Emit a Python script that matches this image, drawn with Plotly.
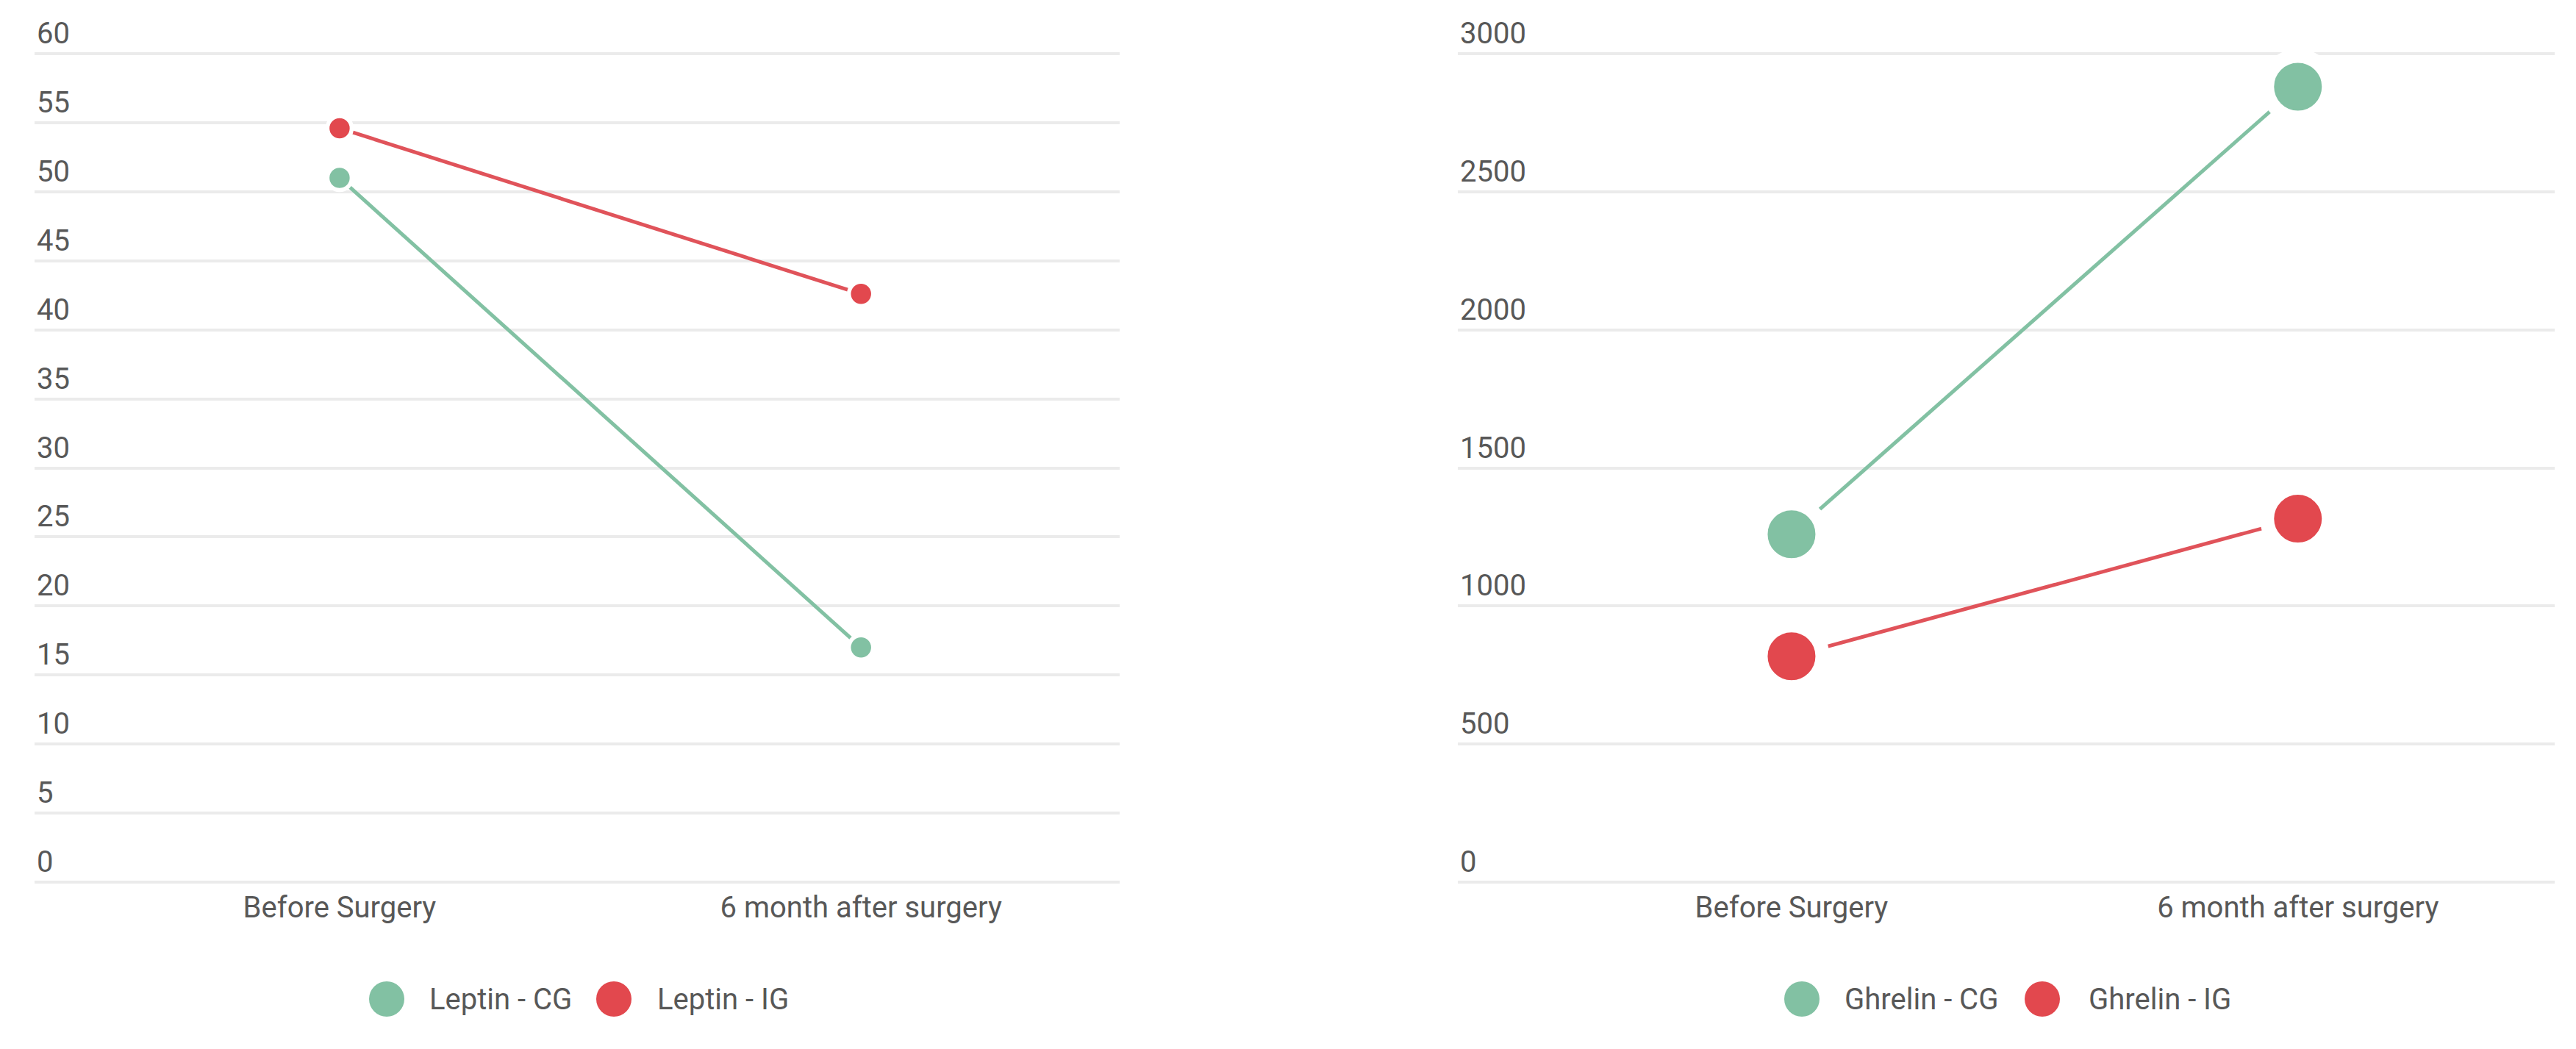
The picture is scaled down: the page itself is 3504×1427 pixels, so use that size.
import plotly.graph_objects as go

# ---------------- data ----------------
categories = ["Before Surgery", "6 month after surgery"]
leptin_cg = [51.0, 17.0]
leptin_ig = [54.6, 42.6]
ghrelin_cg = [1260, 2880]
ghrelin_ig = [818, 1316]
leptin_ticks = [0, 5, 10, 15, 20, 25, 30, 35, 40, 45, 50, 55, 60]
ghrelin_ticks = [0, 500, 1000, 1500, 2000, 2500, 3000]
left_names = ["Leptin - CG", "Leptin - IG"]
right_names = ["Ghrelin - CG", "Ghrelin - IG"]

# ---------------- style ----------------
W, H = 3504, 1427
GREEN = "#82c1a3"
RED = "#e2484e"
RED_LINE = "#e0535a"
TXT = "#585858"
GRID = "#ebebeb"
FONT = "Roboto"
FS = 40


def px_x(p):
    return p / W


def px_y(p):
    return 1 - p / H


top_px, bot_px = 8, 1207
ydom = [px_y(bot_px), px_y(top_px)]
left_dom = [px_x(47), px_x(1523)]
right_dom = [px_x(1983), px_x(3475)]

fig = go.Figure()

# left chart
for vals, col, lcol, name in [(leptin_cg, GREEN, GREEN, left_names[0]),
                              (leptin_ig, RED, RED_LINE, left_names[1])]:
    fig.add_trace(go.Scatter(
        x=categories, y=vals, name=name, mode="lines+markers",
        line=dict(color=lcol, width=5),
        marker=dict(color=col, size=33, line=dict(color="white", width=5.5)),
        xaxis="x", yaxis="y", showlegend=False, cliponaxis=False))

# right chart
for vals, col, lcol, name in [(ghrelin_cg, GREEN, GREEN, right_names[0]),
                              (ghrelin_ig, RED, RED_LINE, right_names[1])]:
    fig.add_trace(go.Scatter(
        x=categories, y=vals, name=name, mode="lines+markers",
        line=dict(color=lcol, width=5),
        marker=dict(color=col, size=84, line=dict(color="white", width=19)),
        xaxis="x2", yaxis="y2", showlegend=False, cliponaxis=False))


# y ranges so that gridline at max sits at y=73 px and 0 at y=1200 px
def yrange(vmax, y_top_line=73, y_zero=1200):
    per = (y_zero - y_top_line) / vmax
    return [-(bot_px - y_zero) / per, vmax + (y_top_line - top_px) / per]


axis_common = dict(showline=False, zeroline=False, ticks="",
                   tickfont=dict(family=FONT, size=FS, color=TXT))

fig.update_layout(
    width=W, height=H,
    margin=dict(l=0, r=0, t=0, b=0),
    paper_bgcolor="white", plot_bgcolor="white",
    font=dict(family=FONT, size=FS, color=TXT),
    xaxis=dict(domain=left_dom, anchor="y", type="category",
               categoryorder="array", categoryarray=categories,
               range=[-0.585, 1.496], showgrid=False, **axis_common),
    yaxis=dict(domain=ydom, anchor="x", range=yrange(60), tickvals=leptin_ticks,
               showgrid=True, gridcolor=GRID, gridwidth=4,
               ticklabelposition="inside top", **axis_common),
    xaxis2=dict(domain=right_dom, anchor="y2", type="category",
                categoryorder="array", categoryarray=categories,
                range=[-0.659, 1.507], showgrid=False, **axis_common),
    yaxis2=dict(domain=ydom, anchor="x2", range=yrange(3000), tickvals=ghrelin_ticks,
                showgrid=True, gridcolor=GRID, gridwidth=4,
                ticklabelposition="inside top", **axis_common),
)

# legends (large circle symbols + text), one per chart
shapes = []
annotations = []
legend_items = [
    (526, 582, GREEN, left_names[0]),
    (835, 892, RED, left_names[1]),
    (2451, 2507, GREEN, right_names[0]),
    (2778, 2839, RED, right_names[1]),
]
leg_y = 1359
for cx, tx, col, name in legend_items:
    shapes.append(dict(type="circle", xref="paper", yref="paper",
                       xsizemode="pixel", ysizemode="pixel",
                       xanchor=px_x(cx), yanchor=px_y(leg_y),
                       x0=-24, x1=24, y0=-24, y1=24,
                       fillcolor=col, line=dict(width=0)))
    annotations.append(dict(xref="paper", yref="paper", x=px_x(tx), y=px_y(leg_y),
                            xanchor="left", yanchor="middle", showarrow=False,
                            text=name, font=dict(family=FONT, size=FS, color=TXT)))
fig.update_layout(shapes=shapes, annotations=annotations)

fig.write_html("out.html", config={"displayModeBar": False},
               post_script="document.body.style.margin='0';document.body.style.overflow='hidden';")
